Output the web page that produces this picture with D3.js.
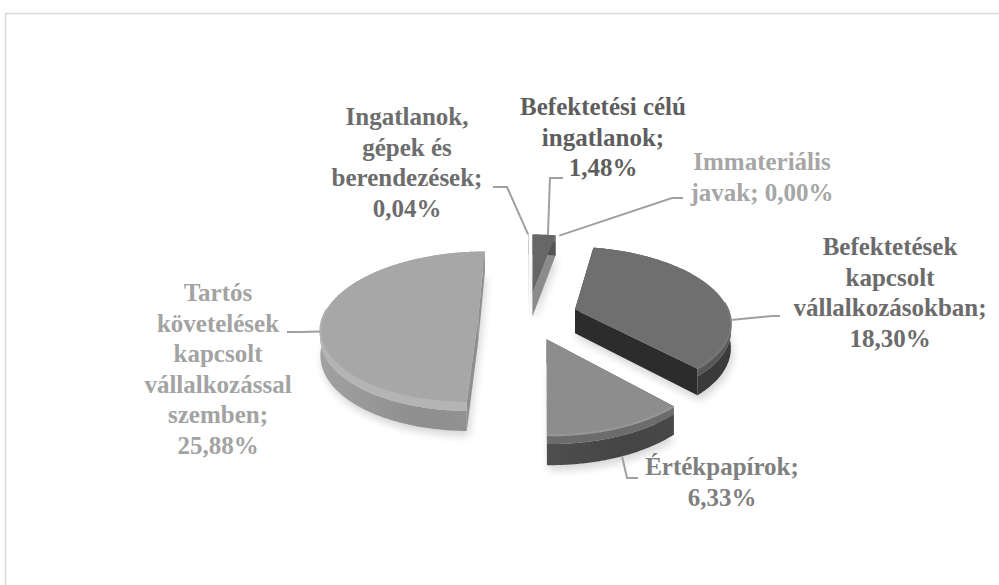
<!DOCTYPE html>
<html>
<head>
<meta charset="utf-8">
<script src="https://cdn.jsdelivr.net/npm/d3@7"></script>
<style>
  body { margin: 0; background: #fff; }
  svg { display: block; }
</style>
</head>
<body>
<div id="chart"></div>
<script>
// Adatok
const categories = [
    "Ingatlanok, gépek és berendezések",
    "Befektetési célú ingatlanok",
    "Immateriális javak",
    "Befektetések kapcsolt vállalkozásokban",
    "Értékpapírok",
    "Tartós követelések kapcsolt vállalkozással szemben"
];
const values = [0.04, 1.48, 0.00, 18.30, 6.33, 25.88];
// címkék sortörése
const nameLines = [
    ["Ingatlanok,", "gépek és", "berendezések;"],
    ["Befektetési célú", "ingatlanok;"],
    ["Immateriális", "javak;"],
    ["Befektetések", "kapcsolt", "vállalkozásokban;"],
    ["Értékpapírok;"],
    ["Tartós", "követelések", "kapcsolt", "vállalkozással", "szemben;"]
];
const valueOnSameLine = [false, false, true, false, false, false];

// Stílus
const topFill   = ["#c6c6c6", "#676767", "#9a9a9a", "#6f6f6f", "#8d8d8d", "#a7a7a7"];
const bevelFill = ["#cfcfcf", "#767676", "#aaaaaa", "#575757", "#6c6c6c", "#b4b4b4"];
const wallFill  = ["#b8b8b8", "#555555", "#888888", "#3b3b3b", "#474747", "#939393"];
const cutFill   = ["#bdbdbd", "#8b8b8b", "#888888", "#2c2c2c", "#5a5a5a", "#8e8e8e"];
const labelFill = ["#6d6d6d", "#5e5e5e", "#a6a6a6", "#6b6b6b", "#7f7f7f", "#a3a3a3"];

// Címkék helye (első alapvonal, középpont) és vezetővonalak
const labelPos = [[407, 125], [603, 115], [762, 170], [890, 255], [722, 475], [218, 301]];
const leaderEnd = [[493, 187], [563, 178], [683, 198], [780, 316], [638, 478], [287, 332]];
const leaderElbow = [[507, 187], [550, 178], [672, 198], [772, 316], [627, 478], [300, 332]];

const W = 999, H = 585;
const cx = 528, cy = 316;     // torta középpont
const Rx = 155, B = 74;       // vízszintes / mélységi sugár
const persp = 0.15;           // perspektíva
const depth = 24;             // oldalfal magassága
const explode = 0.32;
const lineH = 30.5;

const fmt = d3.formatLocale({ decimal: ",", thousands: " ", grouping: [3], currency: ["", ""] }).format(".2f");

const svg = d3.select("#chart").append("svg")
    .attr("width", W)
    .attr("height", H);

const defs = svg.append("defs");
defs.append("filter").attr("id", "soft")
    .attr("x", "-20%").attr("y", "-20%").attr("width", "140%").attr("height", "140%")
    .append("feGaussianBlur").attr("stdDeviation", 4);

// keret
svg.append("rect")
    .attr("x", 5.5).attr("y", 13.5)
    .attr("width", 1000).attr("height", 600)
    .attr("fill", "none")
    .attr("stroke", "#d9d9d9")
    .attr("stroke-width", 1.5);

function proj(u, w, h) {
    const s = 1 / (1 + persp * w);
    return [cx + Rx * u * s, cy - (B * w + h) * s];
}

const pie = d3.pie().sort(null).value(d => d).startAngle(0).endAngle(2 * Math.PI);
const arcs = pie(values);

const slices = arcs.map((a, i) => {
    const mid = (a.startAngle + a.endAngle) / 2;
    return { i, a0: a.startAngle, a1: a.endAngle, value: a.value,
             ox: explode * Math.sin(mid), ow: explode * Math.cos(mid) };
});

function pt(s, ang, r, h) {
    return proj(s.ox + r * Math.sin(ang), s.ow + r * Math.cos(ang), h);
}
function arcAngles(s) {
    const n = Math.max(2, Math.ceil((s.a1 - s.a0) / 0.01));
    return d3.range(n + 1).map(k => s.a0 + (s.a1 - s.a0) * k / n);
}
function arcPts(s, h) {
    return arcAngles(s).map(a => pt(s, a, 1, h));
}

const poly = d3.line().curve(d3.curveLinearClosed);
const open = d3.line();

const g = svg.append("g");

// hátulról előre rajzolva
const order = slices.filter(s => s.a1 > s.a0).sort((a, b) => b.ow - a.ow);

order.forEach(s => {
    const gs = g.append("g").attr("class", "slice");
    const topArc = arcPts(s, 0);
    const botArc = arcPts(s, -depth);
    const bevArc = arcPts(s, -7);

    // árnyék
    gs.append("path")
        .attr("d", poly([pt(s, 0, 0, -depth), ...botArc]))
        .attr("transform", "translate(2,5)")
        .attr("fill", "#000")
        .attr("opacity", 0.16)
        .attr("filter", "url(#soft)");

    // vágási lapok
    [s.a0, s.a1].forEach(a => {
        gs.append("path")
            .attr("d", poly([pt(s, a, 0, 0), pt(s, a, 1, 0), pt(s, a, 1, -depth), pt(s, a, 0, -depth)]))
            .attr("fill", cutFill[s.i]);
    });

    // oldalfal
    const wallId = "wall" + s.i;
    const xs = botArc.map(p => p[0]);
    const lg = defs.append("linearGradient").attr("id", wallId)
        .attr("gradientUnits", "userSpaceOnUse")
        .attr("x1", d3.min(xs)).attr("x2", d3.max(xs)).attr("y1", 0).attr("y2", 0);
    lg.append("stop").attr("offset", 0).attr("stop-color", d3.color(wallFill[s.i]).brighter(0.25));
    lg.append("stop").attr("offset", 0.6).attr("stop-color", d3.color(wallFill[s.i]).darker(0.1));
    lg.append("stop").attr("offset", 1).attr("stop-color", wallFill[s.i]);

    gs.append("path")
        .attr("d", poly([...bevArc, ...botArc.slice().reverse()]))
        .attr("fill", `url(#${wallId})`);
    gs.append("path")
        .attr("d", poly([...topArc, ...bevArc.slice().reverse()]))
        .attr("fill", bevelFill[s.i]);

    // tető
    gs.append("path")
        .attr("d", poly([pt(s, 0, 0, 0), ...topArc]))
        .attr("fill", topFill[s.i]);

    // elülső perem kiemelése
    const front = arcAngles(s).filter(a => Math.cos(a) < 0.1).map(a => pt(s, a, 1, 0));
    if (front.length > 1) {
        gs.append("path")
            .attr("d", open(front))
            .attr("fill", "none")
            .attr("stroke", d3.color(topFill[s.i]).brighter(0.2))
            .attr("stroke-width", 2);
    }
});

// vezetővonalak
slices.forEach(s => {
    const e = leaderElbow[s.i];
    const n = Math.max(1, Math.ceil((s.a1 - s.a0) / 0.01));
    let cands = [];
    d3.range(n + 1).forEach(k => {
        const a = s.a0 + (s.a1 - s.a0) * k / n;
        cands.push(pt(s, a, 1, 0));
        if (Math.cos(a) < -0.2) cands.push(pt(s, a, 1, -depth));
    });
    const start = cands.reduce((best, p) =>
        Math.hypot(p[0] - e[0], p[1] - e[1]) < Math.hypot(best[0] - e[0], best[1] - e[1]) ? p : best);
    svg.append("path")
        .attr("d", open([leaderEnd[s.i], e, start]))
        .attr("fill", "none")
        .attr("stroke", "#a0a0a0")
        .attr("stroke-width", 2);
});

// címkék
slices.forEach(s => {
    const lines = nameLines[s.i].slice();
    const v = fmt(values[s.i]) + "%";
    if (valueOnSameLine[s.i]) lines[lines.length - 1] += " " + v;
    else lines.push(v);
    const t = svg.append("text")
        .attr("x", labelPos[s.i][0])
        .attr("y", labelPos[s.i][1])
        .attr("text-anchor", "middle")
        .style("font-family", '"Liberation Serif"')
        .style("font-weight", "bold")
        .style("font-size", "25px")
        .style("fill", labelFill[s.i]);
    lines.forEach((l, k) => {
        t.append("tspan")
            .attr("x", labelPos[s.i][0])
            .attr("dy", k === 0 ? 0 : lineH)
            .text(l);
    });
});
</script>
</body>
</html>
